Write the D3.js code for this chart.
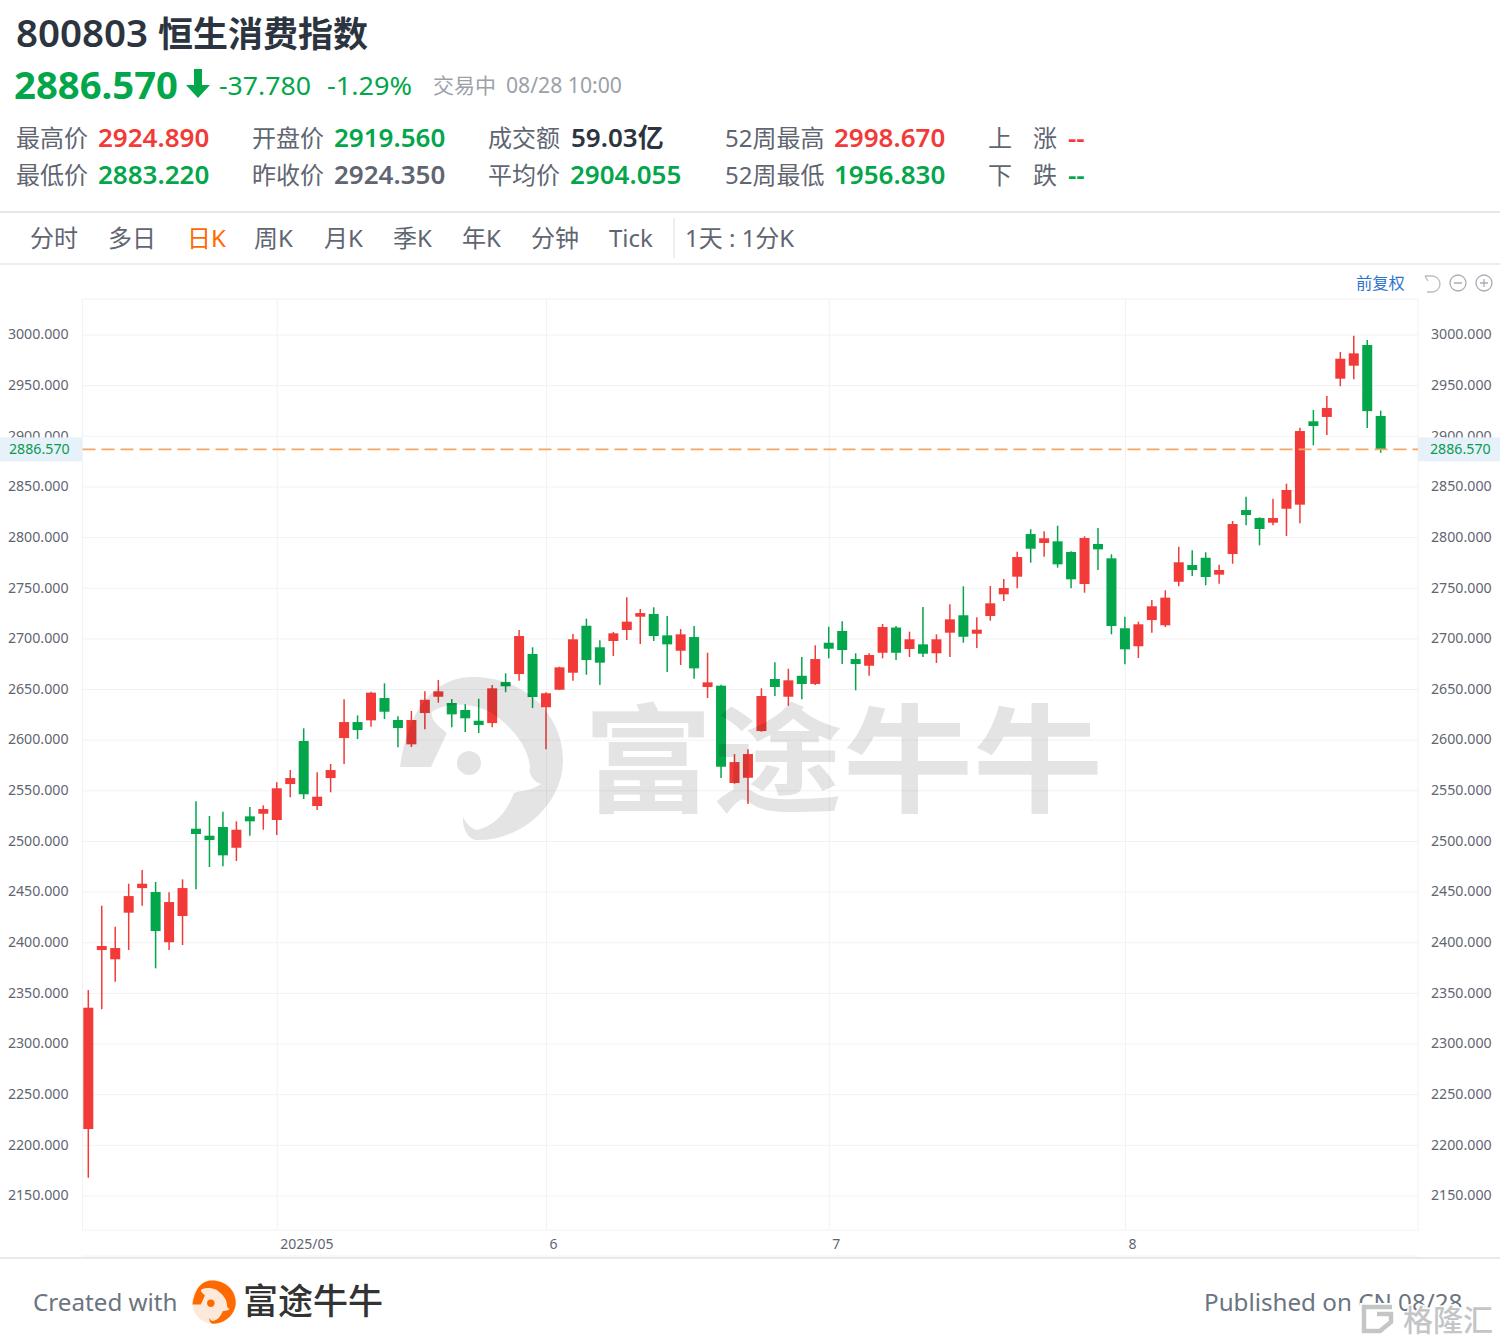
<!DOCTYPE html>
<html>
<head>
<meta charset="utf-8">
<script src="https://cdn.jsdelivr.net/npm/d3@7"></script>
<style>
    body { margin: 0; background: #fff; }
    svg { display: block; font-family: "Noto Sans", "Noto Sans CJK SC", sans-serif; }
</style>
</head>
<body>
<div id="plot-container"></div>
<script>
const dates = [
    "04/09","04/10","04/11","04/14","04/15","04/16","04/17","04/22","04/23","04/24","04/25","04/28","04/29","04/30",
    "05/02","05/06","05/07","05/08","05/09","05/12","05/13","05/14","05/15","05/16","05/19","05/20","05/21","05/22","05/23","05/26","05/27","05/28","05/29","05/30",
    "06/02","06/03","06/04","06/05","06/06","06/09","06/10","06/11","06/12","06/13","06/16","06/17","06/18","06/19","06/20","06/23","06/24","06/25","06/26","06/27","06/30",
    "07/02","07/03","07/04","07/07","07/08","07/09","07/10","07/11","07/14","07/15","07/16","07/17","07/18","07/21","07/22","07/23","07/24","07/25","07/28","07/29","07/30","07/31",
    "08/01","08/04","08/05","08/06","08/07","08/08","08/11","08/12","08/13","08/14","08/15","08/18","08/19","08/20","08/21","08/22","08/25","08/26","08/27","08/28"
];
const opens = [
    2215.6,2392.3,2383.2,2429.2,2453.5,2449.6,2400,2425.9,2512.1,2505.2,2513.8,2493.3,2524.3,2526.9,2520.7,2556.2,2598.7,2534.5,2562.1,2601.6,
    2617.4,2619.1,2641.1,2619.4,2595.4,2626.3,2642.4,2636.2,2629.3,2618.7,2616.4,2656.9,2664.8,2684.6,2632,2649.3,2666.1,2712.5,2691.2,2697.4,
    2708.3,2721.4,2724.1,2703,2687.8,2701.3,2652,2653.3,2557.2,2562.4,2608.5,2659.9,2642.4,2663.1,2655,2695.7,2707.3,2679.6,2673,2685.8,
    2710.7,2689.5,2694.1,2685.3,2705.6,2722.8,2704.6,2722.1,2743.5,2760.9,2803,2794.2,2795.8,2785.3,2753.7,2793.2,2779,2710,2692.2,2718.1,
    2712.9,2755.9,2772.4,2779.6,2762.9,2783.3,2826.7,2818.8,2814.2,2828,2832,2914.3,2918.6,2956.4,2969.2,2989.6,2919.56
];
const closes = [
    2335.4,2396.3,2394.3,2445.6,2457.8,2411.1,2439.7,2453.5,2506.9,2500.9,2485.8,2511.1,2519.4,2531.5,2552,2562.1,2546.1,2543.7,2570,2617.4,
    2609.5,2646.4,2627.6,2611.5,2619.4,2639.4,2647.7,2625,2621.1,2614.5,2650.7,2652.7,2702.3,2642.1,2645.8,2671.4,2699.1,2678.6,2676,2705,
    2716.5,2725,2702.3,2694.1,2704,2670.4,2656.6,2573.3,2577.9,2585.8,2643.1,2652,2658.6,2655,2679.6,2689.8,2688.5,2674.7,2683.6,2711.2,
    2685.8,2699.1,2684.9,2699.1,2718.8,2701.6,2708.6,2734.6,2749.7,2780.3,2788.5,2798.8,2773.1,2758.3,2799.1,2787.9,2712.2,2689.2,2713.9,2731.7,
    2740.2,2775.1,2767.5,2760.6,2767.5,2812.9,2821.8,2808,2818.8,2846.5,2904.7,2909.7,2927.4,2976.1,2981.4,2924.35,2886.57
];
const highs = [
    2352.8,2436.1,2415.3,2457.8,2471.3,2459.5,2449.3,2462.1,2539.1,2524.6,2528.9,2519.4,2533.5,2535.2,2557.9,2570,2611.2,2567.8,2576,2639.8,
    2624,2647.3,2655.6,2623.1,2628.3,2647.7,2658.9,2640.1,2634.9,2640.4,2654,2665.5,2708.3,2691.2,2646.8,2672,2704.3,2719.4,2698.1,2706.3,
    2740.5,2729,2730.7,2722.1,2709.2,2712.2,2685.8,2654.3,2585.8,2590.5,2650.7,2676.4,2670,2681.6,2693.2,2711.5,2716.9,2685.3,2685.3,2714.2,
    2712.2,2706.6,2731,2704,2733.6,2751.4,2720.8,2751.7,2758.6,2785.6,2807.7,2805.7,2811.2,2786,2800.8,2809,2783,2721.4,2716.5,2737.9,
    2747.5,2790.5,2787,2785,2772.7,2815.9,2839.9,2819.5,2837.9,2852.7,2908,2925.5,2939.3,2982.7,2998.67,2994.6,2924.89
];
const lows = [
    2167.5,2333.8,2361,2392.3,2436.1,2374.3,2392.3,2397.3,2452.3,2474.3,2475,2480.2,2505.2,2511.1,2505.9,2543.1,2541.4,2530.6,2548,2576,
    2600.6,2612.8,2620.4,2592.5,2592.7,2610.2,2636.5,2612.2,2607.6,2606.6,2612.2,2646.8,2658.2,2631.3,2590.5,2649,2658.2,2664.1,2654,2682.6,
    2698.4,2694.4,2697.4,2666.8,2673.7,2660.2,2641.1,2562.1,2556.5,2536.5,2607.9,2643.1,2633.5,2639.8,2654,2680.3,2674.7,2648.7,2663.1,2680.3,
    2678.6,2681.6,2681.6,2675.7,2681.6,2695.7,2690.5,2717.4,2736.9,2749.4,2774.7,2780.6,2769.8,2749.4,2745.1,2767.5,2704,2674.4,2680.6,2705.6,
    2711.2,2751.4,2761.6,2752.4,2754,2773.7,2811.6,2791.9,2811.6,2801.1,2813.6,2890.6,2900.8,2948.9,2955.8,2907.7,2883.22
];
const priceTicks = [2150,2200,2250,2300,2350,2400,2450,2500,2550,2600,2650,2700,2750,2800,2850,2900,2950,3000];
const monthTicks = ["05/02","06/02","07/02","08/01"];
const monthLabels = ["2025/05","6","7","8"];
const lastPrice = 2886.57;
const candleData = dates.map((d, i) => ({ date: d, open: opens[i], close: closes[i], high: highs[i], low: lows[i] }));

const red = "#f23b38";
const green = "#03a64a";
const grey = "#5f6672";
const dark = "#2c3440";
const gridColor = "#f1f2f3";

const width = 1500, height = 1344;
const plot = { left: 82.5, right: 1418, top: 299, bottom: 1230 };

const svg = d3.select("#plot-container").append("svg")
    .attr("width", width)
    .attr("height", height);

const label = (x, y, text, size, fill, weight, anchor) => svg.append("text")
    .attr("x", x).attr("y", y)
    .attr("font-size", size)
    .attr("fill", fill)
    .attr("font-weight", weight || 400)
    .attr("text-anchor", anchor || "start")
    .text(text);

// header
label(16, 47, "800803", 38.5, dark, 600);
label(158, 47, "恒生消费指数", 35, dark, 700);
label(14, 99, "2886.570", 38, green, 700).attr("textLength", 164).attr("lengthAdjust", "spacingAndGlyphs");
svg.append("path").attr("fill", green)
    .attr("d", "M194,69h8v16h8l-12,13l-12,-13h8z");
label(219, 95, "-37.780", 26, green).attr("textLength", 92).attr("lengthAdjust", "spacingAndGlyphs");
label(327, 95, "-1.29%", 26, green).attr("textLength", 85).attr("lengthAdjust", "spacingAndGlyphs");
label(433, 93, "交易中", 21, "#9ba1a9");
label(506, 93, "08/28 10:00", 22, "#9ba1a9").attr("textLength", 116).attr("lengthAdjust", "spacingAndGlyphs");

const statLabels = [["最高价", 16, 147], ["最低价", 16, 184], ["开盘价", 252, 147], ["昨收价", 252, 184],
    ["成交额", 488, 147], ["平均价", 488, 184], ["52周最高", 725, 147], ["52周最低", 725, 184]];
const statValues = [["2924.890", 98, 147, red], ["2883.220", 98, 184, green], ["2919.560", 334, 147, green], ["2924.350", 334, 184, grey],
    ["59.03亿", 571, 147, dark], ["2904.055", 570, 184, green], ["2998.670", 834, 147, red], ["1956.830", 834, 184, green]];
statLabels.forEach(d => label(d[1], d[2], d[0], 24, grey));
statValues.forEach(d => label(d[1], d[2], d[0], 26, d[3], 600));
label(988, 147, "上", 24, grey); label(1033, 147, "涨", 24, grey); label(1068, 147, "--", 26, red, 600);
label(988, 184, "下", 24, grey); label(1033, 184, "跌", 24, grey); label(1068, 184, "--", 26, green, 600);

svg.append("rect").attr("x", 0).attr("y", 211).attr("width", width).attr("height", 2).attr("fill", "#e6e7e8");
svg.append("rect").attr("x", 0).attr("y", 263).attr("width", width).attr("height", 2).attr("fill", "#eceded");

const tabs = [["分时", 30], ["多日", 108], ["日K", 187], ["周K", 254], ["月K", 324], ["季K", 393], ["年K", 462], ["分钟", 531], ["Tick", 609], ["1天 : 1分K", 685]];
tabs.forEach(d => label(d[1], 247, d[0], 24, d[0] === "日K" ? "#ff6a00" : grey));
svg.append("line").attr("x1", 674).attr("x2", 674).attr("y1", 218).attr("y2", 258).attr("stroke", "#dcdee0");

label(1356, 289, "前复权", 16.3, "#2f74d0");
svg.append("path").attr("fill", "none").attr("stroke", "#b9bdc2").attr("stroke-width", 1.3)
    .attr("d", "M1425,276h7a8,8 0 0 1 0,16h-5M1425,276l3,5");
[1458, 1484].forEach(cx => svg.append("circle").attr("cx", cx).attr("cy", 283).attr("r", 8)
    .attr("fill", "none").attr("stroke", "#a9adb3").attr("stroke-width", 1.3));
svg.append("path").attr("stroke", "#a9adb3").attr("stroke-width", 1.3)
    .attr("d", "M1454,283h8M1480,283h8M1484,279v8");

// chart
const x = d3.scalePoint().domain(dates).range([88.3, 1380.7]);
const y = d3.scaleLinear().domain([2150, 3000]).range([1195.5, 334.5]);

svg.append("rect")
    .attr("x", plot.left).attr("y", plot.top)
    .attr("width", plot.right - plot.left).attr("height", plot.bottom - plot.top)
    .attr("fill", "none").attr("stroke", gridColor);

const styleAxis = (g, size) => {
    g.select(".domain").remove();
    g.selectAll(".tick line").attr("stroke", gridColor);
    g.selectAll(".tick text").attr("fill", grey)
        .attr("font-size", size)
        .attr("font-family", '"Noto Sans", "Noto Sans CJK SC", sans-serif');
};

svg.append("g")
    .attr("transform", `translate(${plot.left},0)`)
    .call(d3.axisLeft(y).tickValues(priceTicks).tickFormat(d3.format(".3f")).tickSize(-(plot.right - plot.left)).tickPadding(14))
    .call(styleAxis, 14.2)
    .selectAll(".tick text").attr("dy", "0.3em");

svg.append("g")
    .attr("transform", `translate(${plot.right},0)`)
    .call(d3.axisRight(y).tickValues(priceTicks).tickFormat(d3.format(".3f")).tickSize(0).tickPadding(13))
    .call(styleAxis, 14.2)
    .selectAll(".tick text").attr("dy", "0.3em");

svg.append("g")
    .attr("transform", `translate(0,${plot.bottom})`)
    .call(d3.axisBottom(x).tickValues(monthTicks).tickFormat((d, i) => monthLabels[i]).tickSize(-(plot.bottom - plot.top)).tickPadding(9))
    .call(styleAxis, 14)
    .selectAll(".tick text")
    .attr("text-anchor", "start")
    .attr("dx", 3);

svg.append("line").attr("x1", plot.left).attr("x2", plot.right).attr("y1", 1256).attr("y2", 1256).attr("stroke", gridColor);
svg.append("rect").attr("x", 0).attr("y", 1257).attr("width", width).attr("height", 2).attr("fill", "#e8e9ea");

const candles = svg.append("g").selectAll("g")
    .data(candleData)
    .enter()
    .append("g")
    .attr("fill", d => d.close >= d.open ? red : green)
    .attr("stroke", d => d.close >= d.open ? red : green);

candles.append("line")
    .attr("x1", d => x(d.date))
    .attr("x2", d => x(d.date))
    .attr("y1", d => y(d.high))
    .attr("y2", d => y(d.low))
    .attr("stroke-width", 1.5);

candles.append("rect")
    .attr("x", d => x(d.date) - 5)
    .attr("width", 10)
    .attr("y", d => y(Math.max(d.open, d.close)))
    .attr("height", d => Math.abs(y(d.open) - y(d.close)))
    .attr("stroke", "none");

// last price line
svg.append("line")
    .attr("x1", plot.left).attr("x2", plot.right)
    .attr("y1", y(lastPrice)).attr("y2", y(lastPrice))
    .attr("stroke", "#f5a665").attr("stroke-width", 1.6)
    .attr("stroke-dasharray", "13,6");

// watermark sits over the candles
const logoPath = "M400,767L431,767L447,733C436,725 430,718 432,712C445,703 470,702 490,712C510,725 528,745 530,767C528,775 534,782 541,784C530,792 520,790 514,793C505,815 495,825 477,830C470,828 466,823 463,817C462,828 468,838 475,840C520,842 563,805 563,760C563,715 525,677 473,677C440,677 410,700 400,767Z";
const mark = svg.append("g").attr("fill", "rgba(0,0,0,0.105)");
mark.append("path").attr("d", logoPath);
mark.append("circle").attr("cx", 469).attr("cy", 763).attr("r", 12);
mark.append("text").attr("x", 583).attr("y", 803).attr("font-size", 117).attr("font-weight", 700)
    .attr("font-family", '"Noto Sans CJK SC"')
    .attr("textLength", 520).attr("lengthAdjust", "spacingAndGlyphs")
    .text("富途牛牛");

[[0, 82], [1418, 82]].forEach(d => svg.append("rect")
    .attr("x", d[0]).attr("y", y(lastPrice) - 12).attr("width", d[1]).attr("height", 24).attr("fill", "#e6f1fa"));
label(9, y(lastPrice) + 5, "2886.570", 14.2, "#0b9a52");
label(1430, y(lastPrice) + 5, "2886.570", 14.2, "#0b9a52");

// footer
label(33, 1311, "Created with", 24.2, "#6b7480");
const footerLogo = svg.append("g").attr("transform", "translate(214,1302) scale(0.265) translate(-481,-758)");
footerLogo.append("circle").attr("cx", 481).attr("cy", 758).attr("r", 83).attr("fill", "#fde9d9");
footerLogo.append("path").attr("d", logoPath).attr("fill", "#ff6a00");
footerLogo.append("circle").attr("cx", 469).attr("cy", 763).attr("r", 14).attr("fill", "#ff6a00");
label(243, 1314, "富途牛牛", 35, "#333", 500, "start").attr("font-family", '"Noto Sans CJK SC"');
label(1204, 1311, "Published on CN 08/28", 24.2, "#6b7480");

// repost stamp in the corner
const stamp = svg.append("g");
stamp.append("path").attr("fill", "none").attr("stroke", "#fff").attr("stroke-width", 8)
    .attr("d", "M1392,1307h-28v24h16l11,-9v-8h-14");
stamp.append("path").attr("fill", "none").attr("stroke", "#c3c5c7").attr("stroke-width", 4.5)
    .attr("d", "M1392,1307h-28v24h16l11,-9v-8h-14");
label(1403, 1331, "格隆汇", 30, "#c3c5c7", 500).attr("stroke", "#fff").attr("stroke-width", 3).attr("paint-order", "stroke");
</script>
</body>
</html>
